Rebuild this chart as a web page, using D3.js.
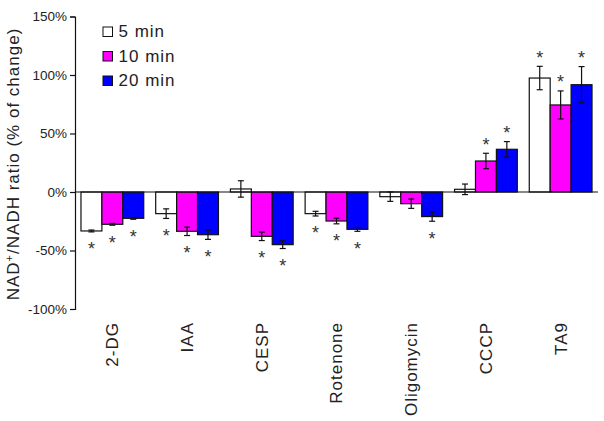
<!DOCTYPE html>
<html>
<head>
<meta charset="utf-8">
<script src="https://cdn.jsdelivr.net/npm/d3@7"></script>
<style>
  html, body { margin: 0; padding: 0; background: #fff; }
  svg { display: block; font-family: "Liberation Sans", Arial, sans-serif; }
</style>
</head>
<body>
<svg id="chart" width="604" height="421"></svg>
<script>
// ---- data ----
const categories = ["2-DG", "IAA", "CESP", "Rotenone", "Oligomycin", "CCCP", "TA9"];
const seriesNames = ["5 min", "10 min", "20 min"];
const values5  = [-33.3, -18.5,   2.6, -18.5,  -4.0,  2.3, 97.4];
const values10 = [-27.6, -33.6, -37.9, -24.8, -10.0, 26.5, 74.4];
const values20 = [-22.5, -36.5, -45.0, -31.9, -21.0, 36.5, 91.7];
const errors5  = [0.8, 4.1, 7.0, 2.0, 4.0, 4.5, 10.0];
const errors10 = [0.8, 3.6, 3.6, 2.4, 4.0, 6.6, 12.0];
const errors20 = [0.8, 4.0, 3.3, 1.7, 4.0, 6.6, 15.5];
const signif5  = [1, 1, 0, 1, 0, 0, 1];
const signif10 = [1, 1, 1, 1, 0, 1, 1];
const signif20 = [1, 1, 1, 1, 1, 1, 1];
const yTicks = [-100, -50, 0, 50, 100, 150];
const yTickLabels = ["-100%", "-50%", "0%", "50%", "100%", "150%"];

// ---- styles ----
const colors = ["#ffffff", "#ff00ff", "#0000ff"];
const margin = { top: 16.5, right: 6, bottom: 112, left: 75 };
const W = 604, H = 421;

const series = [
  { name: seriesNames[0], values: values5,  errors: errors5,  sig: signif5 },
  { name: seriesNames[1], values: values10, errors: errors10, sig: signif10 },
  { name: seriesNames[2], values: values20, errors: errors20, sig: signif20 }
];

const svg = d3.select("#chart");

const x0 = d3.scaleBand().domain(categories)
  .range([margin.left, W - margin.right])
  .paddingInner(0.16).paddingOuter(0.08);
const x1 = d3.scaleBand().domain(seriesNames).range([0, x0.bandwidth()]).padding(0);
const y = d3.scaleLinear().domain([-100, 150]).range([H - margin.bottom, margin.top]);

// y axis
const yAxis = d3.axisLeft(y).tickValues(yTicks)
  .tickFormat((d, i) => yTickLabels[i]).tickSize(5).tickPadding(3);
const gy = svg.append("g").attr("transform", `translate(${margin.left},0)`).call(yAxis);
gy.select(".domain").attr("stroke", "#111").attr("stroke-width", 1.2);
gy.selectAll(".tick line").attr("stroke", "#111").attr("stroke-width", 1.2);
gy.selectAll(".tick text").attr("fill", "#222").style("font-size", "13.5px")
  .style("font-family", "'Liberation Sans', Arial, sans-serif");

// bars
const groups = svg.append("g").selectAll("g").data(categories).join("g")
  .attr("transform", d => `translate(${x0(d)},0)`);

series.forEach((s, si) => {
  groups.append("rect")
    .attr("x", x1(s.name))
    .attr("width", x1.bandwidth())
    .attr("y", (d, i) => Math.min(y(s.values[i]), y(0)))
    .attr("height", (d, i) => Math.abs(y(s.values[i]) - y(0)))
    .attr("fill", colors[si])
    .attr("stroke", "#111")
    .attr("stroke-width", 1.2);
});

// zero line
svg.append("line")
  .attr("x1", margin.left).attr("x2", W - margin.right)
  .attr("y1", y(0)).attr("y2", y(0))
  .attr("stroke", "#111").attr("stroke-width", 1.2);

// error bars and asterisks
const capW = 3;
series.forEach((s, si) => {
  const cx = (i) => x1(s.name) + x1.bandwidth() / 2;
  const eb = groups.append("g").attr("stroke", "#111").attr("stroke-width", 1.2);
  eb.append("line")
    .attr("x1", (d, i) => cx(i)).attr("x2", (d, i) => cx(i))
    .attr("y1", (d, i) => y(s.values[i] - s.errors[i]))
    .attr("y2", (d, i) => y(s.values[i] + s.errors[i]));
  eb.append("line")
    .attr("x1", (d, i) => cx(i) - capW).attr("x2", (d, i) => cx(i) + capW)
    .attr("y1", (d, i) => y(s.values[i] - s.errors[i]))
    .attr("y2", (d, i) => y(s.values[i] - s.errors[i]));
  eb.append("line")
    .attr("x1", (d, i) => cx(i) - capW).attr("x2", (d, i) => cx(i) + capW)
    .attr("y1", (d, i) => y(s.values[i] + s.errors[i]))
    .attr("y2", (d, i) => y(s.values[i] + s.errors[i]));

  groups.filter((d, i) => s.sig[i])
    .append("text")
    .attr("x", cx(0))
    .attr("y", d => {
      const i = categories.indexOf(d);
      const v = s.values[i], e = s.errors[i];
      const c = v >= 0 ? y(v + e) - 13 : y(v - e) + 13;
      return c + 10.5;
    })
    .attr("text-anchor", "middle")
    .attr("fill", "#333")
    .style("font-size", "18px")
    .text("*");
});

// x labels
svg.append("g").selectAll("text").data(categories).join("text")
  .attr("transform", d => `translate(${x0(d) + x0.bandwidth() / 2},322) rotate(-90)`)
  .attr("text-anchor", "end")
  .attr("dy", "0.35em")
  .attr("fill", "#222")
  .style("font-size", "17px")
  .style("letter-spacing", "1px")
  .text(d => d);

// y title
const yt = svg.append("text")
  .attr("transform", `translate(19,164) rotate(-90)`)
  .attr("text-anchor", "middle")
  .attr("fill", "#222")
  .style("font-size", "17px")
  .style("letter-spacing", "1px");
yt.append("tspan").text("NAD");
yt.append("tspan").attr("baseline-shift", "super").style("font-size", "11px").text("+");
yt.append("tspan").text("/NADH ratio (% of change)");

// legend
const legend = svg.append("g").selectAll("g").data(seriesNames).join("g")
  .attr("transform", (d, i) => `translate(103,${27 + i * 24.5})`);
legend.append("rect")
  .attr("width", 9.5).attr("height", 9.5)
  .attr("fill", (d, i) => colors[i])
  .attr("stroke", "#111").attr("stroke-width", 1);
legend.append("text")
  .attr("x", 15.5).attr("y", 10)
  .attr("fill", "#222")
  .style("font-size", "17px")
  .style("letter-spacing", "1px")
  .text(d => d);
</script>
</body>
</html>
